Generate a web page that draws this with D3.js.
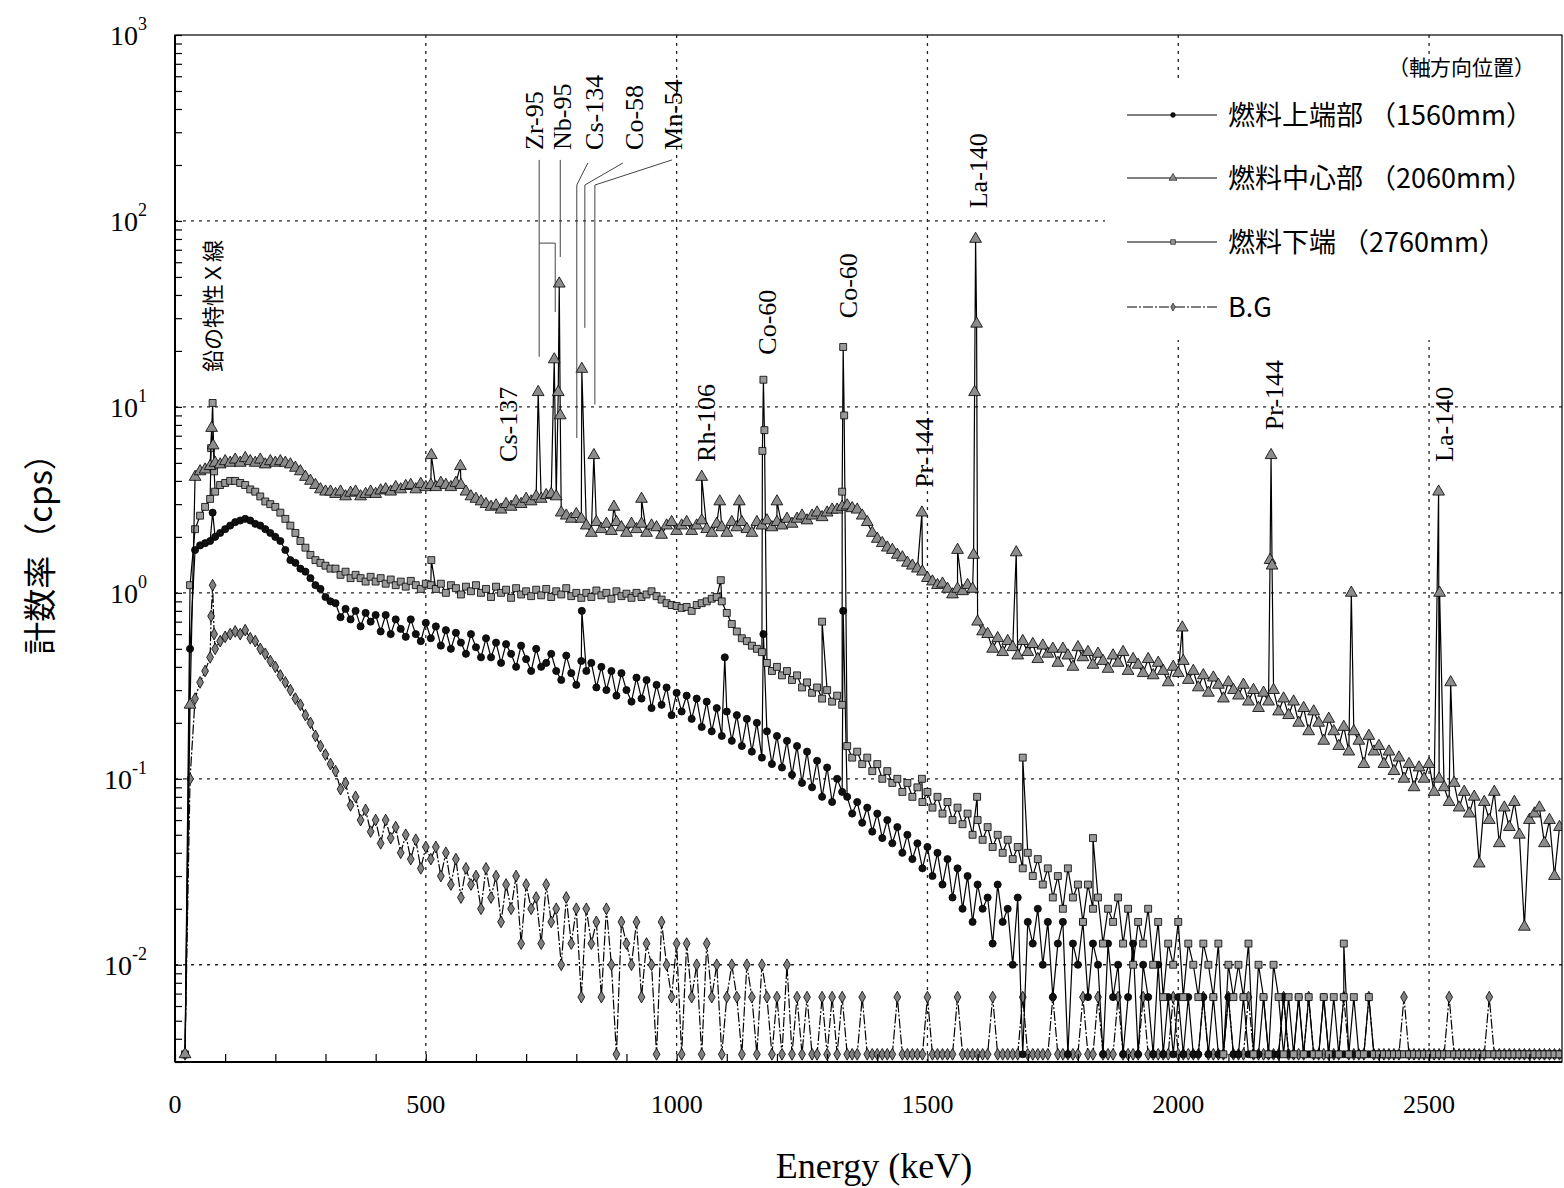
<!DOCTYPE html>
<html>
<head>
<meta charset="utf-8">
<script src="https://cdn.jsdelivr.net/npm/d3@7"></script>
<style>
  body { margin: 0; background: #fff; }
</style>
</head>
<body>
<div id="chart"></div>
<script>
var svgWidth = 1564;
var svgHeight = 1188;

var margin = { top: 35, right: 2, bottom: 126, left: 175 };
var width = svgWidth - margin.left - margin.right;
var height = svgHeight - margin.top - margin.bottom;

// channel grid (keV), every 10 keV from 20 to 2760
var energy = d3.range(20, 2761, 10);

// 燃料上端部 (1560mm) - circles
var upperCps = [
  0.0033, 0.5, 1.7, 1.8, 1.85, 1.9, 2.0, 2.1, 2.2, 2.3,          // 20-110
  2.4, 2.45, 2.5, 2.45, 2.35, 2.3, 2.2, 2.1, 2.0, 1.9,           // 120-210
  1.7, 1.5, 1.45, 1.35, 1.3, 1.2, 1.1, 1.05, 0.95, 0.9,          // 220-310
  0.88, 0.74, 0.82, 0.72, 0.8, 0.66, 0.78, 0.7, 0.76, 0.62,      // 320-410
  0.76, 0.6, 0.72, 0.64, 0.58, 0.72, 0.6, 0.55, 0.69, 0.57,      // 420-510
  0.66, 0.52, 0.63, 0.5, 0.61, 0.54, 0.47, 0.6, 0.51, 0.45,      // 520-610
  0.57, 0.45, 0.54, 0.42, 0.53, 0.47, 0.4, 0.52, 0.44, 0.38,     // 620-710
  0.5, 0.4, 0.42, 0.47, 0.38, 0.34, 0.46, 0.37, 0.32, 0.43,      // 720-810
  0.38, 0.42, 0.31, 0.4, 0.3, 0.38, 0.28, 0.37, 0.3, 0.26,       // 820-910
  0.35, 0.27, 0.34, 0.24, 0.32, 0.25, 0.31, 0.22, 0.29, 0.23,    // 920-1010
  0.28, 0.21, 0.27, 0.19, 0.26, 0.18, 0.24, 0.17, 0.23, 0.16,    // 1020-1110
  0.22, 0.15, 0.21, 0.14, 0.2, 0.13, 0.18, 0.12, 0.17, 0.115,    // 1120-1210
  0.16, 0.105, 0.15, 0.095, 0.14, 0.09, 0.125, 0.08, 0.115, 0.075, // 1220-1310
  0.1, 0.085, 0.08, 0.065, 0.075, 0.058, 0.07, 0.052, 0.065, 0.048, // 1320-1410
  0.06, 0.045, 0.055, 0.04, 0.05, 0.037, 0.045, 0.033, 0.043, 0.03, // 1420-1510
  0.04, 0.027, 0.037, 0.023, 0.033, 0.02, 0.03, 0.017, 0.027, 0.02, // 1520-1610
  0.023, 0.013, 0.027, 0.017, 0.02, 0.01, 0.023, 0.0033, 0.017, 0.013, // 1620-1710
  0.02, 0.01, 0.017, 0.0067, 0.013, 0.017, 0.0033, 0.013, 0.01, 0.017, // 1720-1810
  0.0067, 0.013, 0.01, 0.0033, 0.013, 0.0067, 0.01, 0.0033, 0.0067, 0.013, // 1820-1910
  0.0033, 0.01, 0.0067, 0.0033, 0.01, 0.0033, 0.0067, 0.0033, 0.0067, 0.0033, // 1920-2010
  0.0067, 0.0033, 0.0033, 0.0067, 0.0033, 0.0067, 0.0033, 0.0033, 0.0067, 0.0033, // 2020-2110
  0.0033, 0.0067, 0.0033, 0.0033, 0.0033, 0.0067, 0.0033, 0.0033, 0.0033, 0.0067, // 2120-2210
  0.0033, 0.0033, 0.0067, 0.0033, 0.0033, 0.0033, 0.0033, 0.0067, 0.0033, 0.0033, // 2220-2310
  0.0033, 0.0033, 0.0033, 0.0033, 0.0033, 0.0033, 0.0033, 0.0033, 0.0033, 0.0033, // 2320-2410
  0.0033, 0.0033, 0.0033, 0.0033, 0.0033, 0.0033, 0.0033, 0.0033, 0.0033, 0.0033, // 2420-2510
  0.0033, 0.0033, 0.0033, 0.0033, 0.0033, 0.0033, 0.0033, 0.0033, 0.0033, 0.0033, // 2520-2610
  0.0033, 0.0033, 0.0033, 0.0033, 0.0033, 0.0033, 0.0033, 0.0033, 0.0033, 0.0033, // 2620-2710
  0.0033, 0.0033, 0.0033, 0.0033, 0.0033                                            // 2720-2760
];
var upperPeaks = [[75, 2.7], [811, 0.8], [1096, 0.45], [1173, 0.6], [1332, 0.8]];

// 燃料中心部 (2060mm) - triangles
var centerCps = [
  0.0033, 0.25, 4.2, 4.5, 4.6, 4.8, 5.0, 4.9, 5.1, 5.0,          // 20-110
  5.2, 5.0, 5.3, 5.1, 5.0, 5.2, 4.9, 5.1, 5.0, 5.1,              // 120-210
  5.0, 4.9, 4.7, 4.5, 4.2, 4.0, 3.8, 3.6, 3.5, 3.5,              // 220-310
  3.4, 3.5, 3.3, 3.45, 3.5, 3.3, 3.4, 3.5, 3.4, 3.55,            // 320-410
  3.6, 3.5, 3.7, 3.6, 3.75, 3.8, 3.6, 3.85, 3.7, 3.8,            // 420-510
  3.7, 3.9, 3.8, 3.7, 3.9, 3.8, 3.5, 3.3, 3.2, 3.1,              // 520-610
  3.0, 2.9, 2.95, 2.8, 3.0, 2.9, 3.1, 3.0, 3.2, 3.1,             // 620-710
  3.3, 3.2, 3.35, 3.4, 3.3, 2.7, 2.6, 2.5, 2.65, 2.5,            // 720-810
  2.3, 2.1, 2.4, 2.2, 2.35, 2.15, 2.4, 2.25, 2.1, 2.35,          // 820-910
  2.2, 2.35, 2.1, 2.3, 2.25, 2.05, 2.3, 2.4, 2.15, 2.3,          // 920-1010
  2.4, 2.15, 2.3, 2.45, 2.2, 2.1, 2.35, 2.25, 2.1, 2.4,          // 1020-1110
  2.25, 2.4, 2.2, 2.1, 2.4, 2.3, 2.45, 2.25, 2.4, 2.3,           // 1120-1210
  2.5, 2.35, 2.5, 2.6, 2.45, 2.6, 2.7, 2.55, 2.7, 2.8,           // 1220-1310
  2.8, 2.9, 2.95, 2.85, 2.8, 2.6, 2.4, 2.1, 1.95, 1.85,          // 1320-1410
  1.75, 1.7, 1.6, 1.55, 1.45, 1.4, 1.35, 1.3, 1.2, 1.15,         // 1420-1510
  1.1, 1.12, 1.05, 0.98, 1.05, 1.02, 1.1, 1.05, 0.7, 0.62,       // 1520-1610
  0.6, 0.5, 0.57, 0.48, 0.55, 0.51, 0.46, 0.55, 0.48, 0.53,      // 1620-1710
  0.44, 0.52, 0.47, 0.5, 0.42, 0.5, 0.46, 0.4, 0.51, 0.45,       // 1720-1810
  0.48, 0.41, 0.47, 0.43, 0.39, 0.46, 0.42, 0.48, 0.38, 0.44,    // 1820-1910
  0.41, 0.37, 0.44, 0.36, 0.42, 0.38, 0.33, 0.4, 0.37, 0.43,     // 1920-2010
  0.34, 0.38, 0.31, 0.36, 0.29, 0.35, 0.32, 0.27, 0.33, 0.3,     // 2020-2110
  0.28, 0.32, 0.26, 0.3, 0.24, 0.29, 0.26, 0.3, 0.23, 0.27,      // 2120-2210
  0.22, 0.26, 0.2, 0.24, 0.18, 0.23, 0.2, 0.16, 0.21, 0.18,      // 2220-2310
  0.15, 0.19, 0.14, 0.18, 0.16, 0.12, 0.17, 0.14, 0.15, 0.12,    // 2320-2410
  0.14, 0.11, 0.13, 0.1, 0.12, 0.09, 0.115, 0.1, 0.12, 0.085,    // 2420-2510
  0.1, 0.09, 0.075, 0.095, 0.07, 0.085, 0.065, 0.08, 0.035, 0.075, // 2520-2610
  0.06, 0.085, 0.045, 0.07, 0.055, 0.075, 0.05, 0.016, 0.06, 0.065, // 2620-2710
  0.07, 0.045, 0.06, 0.03, 0.055                                   // 2720-2760
];
var centerPeaks = [
  [73, 7.7], [76, 6.2], [511, 5.5], [569, 4.8], [724, 12], [756, 18],
  [764, 12], [766, 46], [768, 9], [811, 16], [835, 5.5], [875, 2.9],
  [930, 3.2], [1050, 4.2], [1086, 3.1], [1125, 3.1], [1200, 3.1],
  [1489, 2.7], [1560, 1.7], [1592, 1.6], [1594, 12], [1596, 80], [1598, 28],
  [1677, 1.65], [2008, 0.65], [2183, 1.5], [2185, 5.5], [2187, 1.4],
  [2345, 1.0], [2519, 3.5], [2521, 1.0], [2543, 0.33]
];

// 燃料下端 (2760mm) - squares
var lowerCps = [
  0.0033, 1.1, 2.2, 2.6, 2.9, 3.2, 3.5, 3.8, 3.9, 4.0,           // 20-110
  4.0, 3.9, 3.8, 3.6, 3.5, 3.3, 3.1, 3.0, 2.9, 2.7,              // 120-210
  2.5, 2.3, 2.1, 1.9, 1.75, 1.6, 1.5, 1.45, 1.4, 1.35,           // 220-310
  1.35, 1.25, 1.3, 1.2, 1.25, 1.2, 1.15, 1.22, 1.15, 1.2,        // 320-410
  1.12, 1.18, 1.1, 1.15, 1.08, 1.16, 1.1, 1.05, 1.12, 1.1,       // 420-510
  1.05, 1.12, 1.0, 1.1, 1.06, 0.98, 1.08, 1.02, 1.1, 1.0,        // 520-610
  1.05, 0.95, 1.08, 1.0, 1.04, 0.94, 1.06, 0.98, 1.02, 0.96,     // 620-710
  1.04, 0.97, 1.05, 0.95, 1.02, 0.98, 1.06, 0.96, 1.0, 0.94,     // 720-810
  1.0, 0.95, 1.03, 0.97, 1.0, 0.93, 1.02, 0.96, 0.99, 0.94,      // 820-910
  1.0, 0.95, 0.98, 1.02, 0.96, 0.92, 0.88, 0.86, 0.85, 0.83,     // 920-1010
  0.84, 0.8, 0.86, 0.88, 0.9, 0.93, 0.95, 0.9, 0.78, 0.68,       // 1020-1110
  0.62, 0.57, 0.55, 0.52, 0.5, 0.48, 0.42, 0.38, 0.4, 0.36,      // 1120-1210
  0.38, 0.34, 0.36, 0.31, 0.33, 0.29, 0.31, 0.27, 0.3, 0.26,     // 1220-1310
  0.28, 0.25, 0.15, 0.13, 0.14, 0.12, 0.13, 0.11, 0.12, 0.1,     // 1320-1410
  0.11, 0.095, 0.1, 0.085, 0.095, 0.08, 0.09, 0.075, 0.085, 0.07, // 1420-1510
  0.08, 0.065, 0.075, 0.06, 0.07, 0.057, 0.065, 0.05, 0.06, 0.047, // 1520-1610
  0.055, 0.043, 0.05, 0.04, 0.047, 0.037, 0.043, 0.033, 0.04, 0.03, // 1620-1710
  0.037, 0.027, 0.033, 0.023, 0.03, 0.02, 0.033, 0.023, 0.027, 0.017, // 1720-1810
  0.027, 0.02, 0.023, 0.013, 0.02, 0.017, 0.023, 0.013, 0.02, 0.01, // 1820-1910
  0.017, 0.013, 0.02, 0.01, 0.017, 0.0067, 0.013, 0.01, 0.017, 0.0067, // 1920-2010
  0.013, 0.01, 0.0067, 0.013, 0.01, 0.0067, 0.013, 0.0033, 0.01, 0.0067, // 2020-2110
  0.01, 0.0067, 0.013, 0.0033, 0.01, 0.0067, 0.0033, 0.01, 0.0067, 0.0033, // 2120-2210
  0.0067, 0.0033, 0.0067, 0.0033, 0.0067, 0.0033, 0.0033, 0.0067, 0.0033, 0.0067, // 2220-2310
  0.0033, 0.0067, 0.0033, 0.0067, 0.0033, 0.0033, 0.0067, 0.0033, 0.0033, 0.0033, // 2320-2410
  0.0033, 0.0033, 0.0033, 0.0033, 0.0033, 0.0033, 0.0033, 0.0033, 0.0033, 0.0033, // 2420-2510
  0.0033, 0.0033, 0.0033, 0.0033, 0.0033, 0.0033, 0.0033, 0.0033, 0.0033, 0.0033, // 2520-2610
  0.0033, 0.0033, 0.0033, 0.0033, 0.0033, 0.0033, 0.0033, 0.0033, 0.0033, 0.0033, // 2620-2710
  0.0033, 0.0033, 0.0033, 0.0033, 0.0033                                            // 2720-2760
];
var lowerPeaks = [
  [72, 6.0], [75, 10.5], [78, 4.5], [511, 1.5], [1088, 1.17],
  [1171, 5.8], [1173, 14], [1175, 7.5], [1290, 0.7],
  [1330, 3.5], [1332, 21], [1334, 9], [1489, 0.1], [1599, 0.08],
  [1690, 0.13], [1830, 0.048], [2330, 0.013]
];

// B.G - diamonds
var bgCps = [
  0.0033, 0.1, 0.27, 0.33, 0.38, 0.45, 0.5, 0.55, 0.58, 0.6,     // 20-110
  0.62, 0.6, 0.63, 0.57, 0.55, 0.5, 0.47, 0.43, 0.4, 0.36,       // 120-210
  0.33, 0.3, 0.27, 0.25, 0.22, 0.2, 0.17, 0.15, 0.135, 0.12,     // 220-310
  0.11, 0.088, 0.095, 0.072, 0.08, 0.06, 0.068, 0.052, 0.06, 0.045, // 320-410
  0.06, 0.048, 0.055, 0.04, 0.05, 0.037, 0.047, 0.033, 0.043, 0.037, // 420-510
  0.043, 0.03, 0.04, 0.027, 0.037, 0.023, 0.033, 0.027, 0.03, 0.02, // 520-610
  0.033, 0.023, 0.03, 0.017, 0.027, 0.02, 0.03, 0.013, 0.027, 0.02, // 620-710
  0.023, 0.013, 0.027, 0.017, 0.02, 0.01, 0.023, 0.013, 0.02, 0.0067, // 720-810
  0.02, 0.013, 0.017, 0.0067, 0.02, 0.01, 0.0033, 0.017, 0.013, 0.01, // 820-910
  0.017, 0.0067, 0.013, 0.01, 0.0033, 0.017, 0.01, 0.0067, 0.013, 0.0033, // 920-1010
  0.013, 0.0067, 0.01, 0.0033, 0.013, 0.0067, 0.01, 0.0033, 0.0067, 0.01, // 1020-1110
  0.0067, 0.0033, 0.01, 0.0067, 0.0033, 0.01, 0.0067, 0.0033, 0.0067, 0.0033, // 1120-1210
  0.01, 0.0033, 0.0067, 0.0033, 0.0067, 0.0033, 0.0033, 0.0067, 0.0033, 0.0067, // 1220-1310
  0.0033, 0.0067, 0.0033, 0.0033, 0.0033, 0.0067, 0.0033, 0.0033, 0.0033, 0.0033, // 1320-1410
  0.0033, 0.0033, 0.0067, 0.0033, 0.0033, 0.0033, 0.0033, 0.0033, 0.0067, 0.0033, // 1420-1510
  0.0033, 0.0033, 0.0033, 0.0033, 0.0067, 0.0033, 0.0033, 0.0033, 0.0033, 0.0033, // 1520-1610
  0.0033, 0.0067, 0.0033, 0.0033, 0.0033, 0.0033, 0.0033, 0.0067, 0.0033, 0.0033, // 1620-1710
  0.0033, 0.0033, 0.0033, 0.0067, 0.0033, 0.0033, 0.0033, 0.0033, 0.0033, 0.0067, // 1720-1810
  0.0033, 0.0033, 0.0067, 0.0033, 0.0033, 0.0033, 0.0067, 0.0033, 0.0033, 0.0033, // 1820-1910
  0.0033, 0.0067, 0.0033, 0.0033, 0.0033, 0.0033, 0.0033, 0.0067, 0.0033, 0.0033, // 1920-2010
  0.0033, 0.0033, 0.0033, 0.0067, 0.0033, 0.0033, 0.0033, 0.0033, 0.0067, 0.0033, // 2020-2110
  0.0033, 0.0033, 0.0067, 0.0033, 0.0033, 0.0033, 0.0033, 0.0033, 0.0033, 0.0067, // 2120-2210
  0.0033, 0.0033, 0.0033, 0.0033, 0.0067, 0.0033, 0.0033, 0.0033, 0.0033, 0.0033, // 2220-2310
  0.0033, 0.0067, 0.0033, 0.0033, 0.0033, 0.0033, 0.0067, 0.0033, 0.0033, 0.0033, // 2320-2410
  0.0033, 0.0033, 0.0033, 0.0067, 0.0033, 0.0033, 0.0033, 0.0033, 0.0033, 0.0033, // 2420-2510
  0.0033, 0.0033, 0.0067, 0.0033, 0.0033, 0.0033, 0.0033, 0.0033, 0.0033, 0.0033, // 2520-2610
  0.0067, 0.0033, 0.0033, 0.0033, 0.0033, 0.0033, 0.0033, 0.0033, 0.0033, 0.0033, // 2620-2710
  0.0033, 0.0033, 0.0033, 0.0033, 0.0033                                            // 2720-2760
];
var bgPeaks = [[72, 0.75], [75, 1.1], [78, 0.6]];

var seriesNames = ["燃料上端部 （1560mm）", "燃料中心部 （2060mm）", "燃料下端 （2760mm）", "B.G"];

// nuclide labels: energy (keV) and cps at the start of the rotated text
var nuclideLabels = [
  { text: "鉛の特性Ｘ線", e: 76, cps: 15.4, cjk: true },
  { text: "Cs-137", e: 664, cps: 5.06 },
  { text: "Zr-95", e: 716, cps: 241 },
  { text: "Nb-95", e: 771, cps: 241 },
  { text: "Cs-134", e: 835, cps: 241 },
  { text: "Co-58", e: 915, cps: 241 },
  { text: "Mn-54", e: 993, cps: 241 },
  { text: "Rh-106", e: 1059, cps: 5.06 },
  { text: "Co-60", e: 1180, cps: 19.1 },
  { text: "Co-60", e: 1342, cps: 30 },
  { text: "Pr-144", e: 1493, cps: 3.67 },
  { text: "La-140", e: 1601, cps: 117 },
  { text: "Pr-144", e: 2191, cps: 7.5 },
  { text: "La-140", e: 2530, cps: 5.06 }
];

// leader lines from the top labels to their peaks, [keV, cps]
var leaderLines = [
  [[726, 213], [726, 18.6]],
  [[726, 76], [758, 76], [758, 32.4]],
  [[768, 213], [768, 64]],
  [[823, 205], [801, 156], [801, 6.8]],
  [[893, 205], [817, 156], [817, 26.6]],
  [[991, 213], [837, 156], [837, 10.3]]
];

var xTickLabels = [0, 500, 1000, 1500, 2000, 2500];
var yDecades = [-2, -1, 0, 1, 2, 3];

var svg = d3.select("#chart")
  .append("svg")
  .attr("width", svgWidth)
  .attr("height", svgHeight)
  .style("background", "#fff");

var x = d3.scaleLinear().domain([0, 2765]).range([margin.left, margin.left + width]);
var y = d3.scaleLog().domain([0.003, 1000]).range([margin.top + height, margin.top]);

var serif = "'Liberation Serif', 'Times New Roman', serif";
var cjk = "'Noto Sans CJK JP', sans-serif";

// dotted grid
var grid = svg.append("g").attr("stroke", "#222").attr("stroke-width", 1.3).attr("stroke-dasharray", "3,5");
xTickLabels.filter(d => d > 0).forEach(function(d) {
  grid.append("line").attr("x1", x(d)).attr("x2", x(d)).attr("y1", y(1000)).attr("y2", y(0.003));
});
yDecades.filter(p => p < 3).forEach(function(p) {
  grid.append("line").attr("x1", x(0)).attr("x2", x(2765)).attr("y1", y(Math.pow(10, p))).attr("y2", y(Math.pow(10, p)));
});

svg.append("defs").append("clipPath").attr("id", "plotClip")
  .append("rect").attr("x", margin.left).attr("y", margin.top).attr("width", width).attr("height", height);

function buildSeries(values, peaks) {
  var pts = energy.map((e, i) => ({ e: e, v: values[i] }));
  peaks.forEach(p => pts.push({ e: p[0], v: p[1] }));
  pts.sort((a, b) => a.e - b.e);
  return pts;
}

var series = [
  { name: seriesNames[0], pts: buildSeries(upperCps, upperPeaks), symbol: d3.symbolCircle, size: 40, fill: "#111", dash: null },
  { name: seriesNames[1], pts: buildSeries(centerCps, centerPeaks), symbol: d3.symbolTriangle, size: 60, fill: "#8c8c8c", dash: null },
  { name: seriesNames[2], pts: buildSeries(lowerCps, lowerPeaks), symbol: d3.symbolSquare, size: 48, fill: "#999", dash: null },
  { name: seriesNames[3], pts: buildSeries(bgCps, bgPeaks), symbol: d3.symbolDiamond, size: 40, fill: "#808080", dash: "10,2,2,2" }
];

var line = d3.line().x(d => x(d.e)).y(d => y(d.v));
var plot = svg.append("g").attr("clip-path", "url(#plotClip)");

// draw B.G first, then upper, lower, center
[3, 0, 2, 1].forEach(function(k) {
  var s = series[k];
  var g = plot.append("g");
  g.append("path")
    .datum(s.pts)
    .attr("d", line)
    .attr("fill", "none")
    .attr("stroke", "#000")
    .attr("stroke-width", 1.2)
    .attr("stroke-dasharray", s.dash);
  g.selectAll("path.m")
    .data(s.pts)
    .enter()
    .append("path")
    .attr("class", "m")
    .attr("d", d3.symbol(s.symbol, s.size))
    .attr("transform", d => `translate(${x(d.e)},${y(d.v)})`)
    .attr("fill", s.fill)
    .attr("stroke", "#000")
    .attr("stroke-width", 0.8);
});

// leader lines
var leader = d3.line().x(d => x(d[0])).y(d => y(d[1]));
leaderLines.forEach(function(l) {
  svg.append("path").attr("d", leader(l)).attr("fill", "none").attr("stroke", "#444").attr("stroke-width", 1);
});

// nuclide labels
nuclideLabels.forEach(function(d) {
  svg.append("text")
    .attr("transform", `translate(${x(d.e)},${y(d.cps)}) rotate(-90)`)
    .attr("dy", "0.35em")
    .attr("text-anchor", "start")
    .style("font-family", d.cjk ? cjk : serif)
    .style("font-size", d.cjk ? "22px" : "26px")
    .attr("fill", "#000")
    .text(d.text);
});

// legend
var legend = svg.append("g");
legend.append("rect").attr("x", 1105).attr("y", 80).attr("width", 457).attr("height", 260).attr("fill", "#fff");
svg.append("text")
  .attr("x", 1535).attr("y", 75)
  .attr("text-anchor", "end")
  .style("font-family", cjk).style("font-size", "21px")
  .text("（軸方向位置）");
var rowY = [115, 178, 242, 307];
series.forEach(function(s, i) {
  var cy = rowY[i];
  legend.append("line")
    .attr("x1", 1127).attr("x2", 1217).attr("y1", cy).attr("y2", cy)
    .attr("stroke", "#000").attr("stroke-width", 1.1)
    .attr("stroke-dasharray", s.dash);
  legend.append("path")
    .attr("d", d3.symbol(s.symbol, s.size * 0.45)())
    .attr("transform", `translate(1173,${cy})`)
    .attr("fill", s.fill).attr("stroke", "#000").attr("stroke-width", 0.6);
  legend.append("text")
    .attr("x", 1228).attr("y", cy + 10)
    .style("font-family", cjk).style("font-size", "27px")
    .text(s.name);
});

// axes: inward ticks
var yMinor = [];
yDecades.concat([-3]).forEach(function(p) {
  for (var m = 1; m <= 9; m++) {
    var v = m * Math.pow(10, p);
    if (v >= 0.003 && v <= 1000) yMinor.push(v);
  }
});
svg.append("g")
  .attr("transform", `translate(${margin.left},0)`)
  .call(d3.axisRight(y).tickValues(yMinor).tickSize(7).tickFormat(""))
  .call(g => g.select(".domain").remove())
  .selectAll("line").attr("stroke", "#000").attr("stroke-width", 1.2);

svg.append("g")
  .attr("transform", `translate(0,${margin.top + height})`)
  .call(d3.axisTop(x).tickValues(d3.range(0, 2701, 100)).tickSize(8).tickFormat(""))
  .call(g => g.select(".domain").remove())
  .selectAll("line").attr("stroke", "#000").attr("stroke-width", 1.2);

// frame
svg.append("rect")
  .attr("x", margin.left).attr("y", margin.top)
  .attr("width", width).attr("height", height)
  .attr("fill", "none").attr("stroke", "#000").attr("stroke-width", 1.2);
svg.append("line")
  .attr("x1", margin.left).attr("x2", margin.left)
  .attr("y1", margin.top).attr("y2", margin.top + height)
  .attr("stroke", "#000").attr("stroke-width", 2);
svg.append("line")
  .attr("x1", margin.left).attr("x2", margin.left + width)
  .attr("y1", margin.top + height).attr("y2", margin.top + height)
  .attr("stroke", "#000").attr("stroke-width", 2);

// x tick labels
xTickLabels.forEach(function(d) {
  svg.append("text")
    .attr("x", x(d)).attr("y", 1113)
    .attr("text-anchor", "middle")
    .style("font-family", serif).style("font-size", "26px")
    .text(d);
});

// y tick labels with superscripts
yDecades.forEach(function(p) {
  var t = svg.append("text")
    .attr("x", 147).attr("y", y(Math.pow(10, p)) + 10)
    .attr("text-anchor", "end")
    .style("font-family", serif).style("font-size", "28px");
  t.append("tspan").text("10");
  t.append("tspan").attr("dy", -15).style("font-size", "18px").text(p);
});

// axis titles
svg.append("text")
  .attr("x", 874).attr("y", 1178)
  .attr("text-anchor", "middle")
  .style("font-family", serif).style("font-size", "36px")
  .text("Energy (keV)");

svg.append("text")
  .attr("transform", "translate(40,546) rotate(-90)")
  .attr("dy", "0.35em")
  .attr("text-anchor", "middle")
  .style("font-family", cjk).style("font-size", "33px")
  .text("計数率（cps）");
</script>
</body>
</html>
